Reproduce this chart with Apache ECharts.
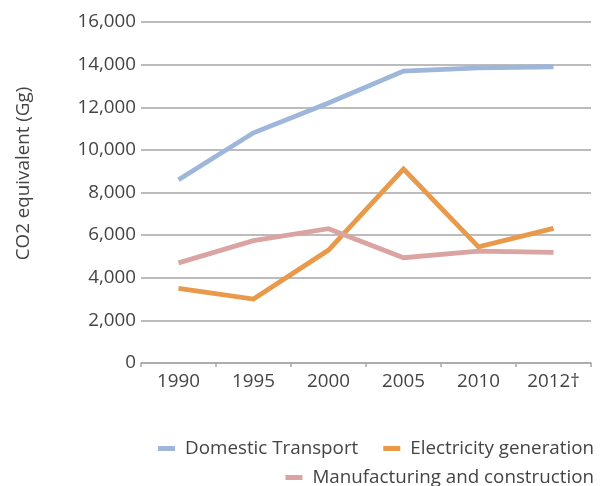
<!DOCTYPE html>
<html>
<head>
<meta charset="utf-8">
<script src="https://cdn.jsdelivr.net/npm/echarts@6/dist/echarts.min.js"></script>
<style>
  html, body { margin: 0; padding: 0; background: #fff; }
  #chart { width: 604px; height: 486px; }
</style>
</head>
<body>
<div id="chart"></div>
<script>
// Greenhouse gas emissions by sector (Gg CO2 equivalent)
const years = ['1990', '1995', '2000', '2005', '2010', '2012†'];
const domesticTransport = [8600, 10800, 12200, 13700, 13850, 13900];
const electricityGeneration = [3500, 3000, 5300, 9100, 5450, 6320];
const manufacturingConstruction = [4700, 5740, 6300, 4940, 5250, 5190];
const yTicks = [0, 2000, 4000, 6000, 8000, 10000, 12000, 14000, 16000];

const FONT = '"Open Sans", "Noto Sans", sans-serif';
const TEXT = '#444444';
const GRID = '#a6a6a6';
const FS = 18.8;

const chart = echarts.init(document.getElementById('chart'), null, { renderer: 'canvas' });

function line(name, data, color) {
  return {
    name, type: 'line', data,
    symbol: 'none',
    lineStyle: { color, width: 4.8, join: 'miter' },
    itemStyle: { color },
    z: 2
  };
}

chart.setOption({
  animation: false,
  textStyle: { fontFamily: FONT },
  grid: { left: 141, right: 13, top: 22, bottom: 123 },
  xAxis: {
    type: 'category',
    data: years,
    boundaryGap: true,
    axisLine: { lineStyle: { color: GRID, width: 1.5 } },
    axisTick: { show: true, length: 4, lineStyle: { color: GRID, width: 1.5 } },
    axisLabel: { color: TEXT, fontSize: FS, fontFamily: FONT, margin: 9 }
  },
  yAxis: {
    type: 'value',
    min: yTicks[0],
    max: yTicks[yTicks.length - 1],
    interval: 2000,
    name: 'CO2 equivalent (Gg)',
    nameLocation: 'middle',
    nameGap: 108,
    nameTextStyle: { color: TEXT, fontSize: FS, fontFamily: FONT, padding: [0, 0, 0, 38] },
    axisLine: { show: false },
    axisTick: { show: false },
    splitLine: { lineStyle: { color: GRID, width: 1.5 } },
    axisLabel: {
      color: TEXT, fontSize: FS, fontFamily: FONT, margin: 5,
      formatter: v => v.toLocaleString('en-US')
    }
  },
  legend: [
    {
      data: ['Domestic Transport', 'Electricity generation'],
      right: 5, top: 434,
      icon: 'rect', itemWidth: 17, itemHeight: 5, itemGap: 25,
      textStyle: { color: TEXT, fontSize: FS, fontFamily: FONT, padding: [0, 0, 0, 5] }
    },
    {
      data: ['Manufacturing and construction'],
      right: 5, top: 463,
      icon: 'rect', itemWidth: 17, itemHeight: 5,
      textStyle: { color: TEXT, fontSize: FS, fontFamily: FONT, padding: [0, 0, 0, 5] }
    }
  ],
  series: [
    line('Domestic Transport', domesticTransport, '#9db6da'),
    line('Electricity generation', electricityGeneration, '#e8994a'),
    line('Manufacturing and construction', manufacturingConstruction, '#d9a4a1')
  ]
});
</script>
</body>
</html>
